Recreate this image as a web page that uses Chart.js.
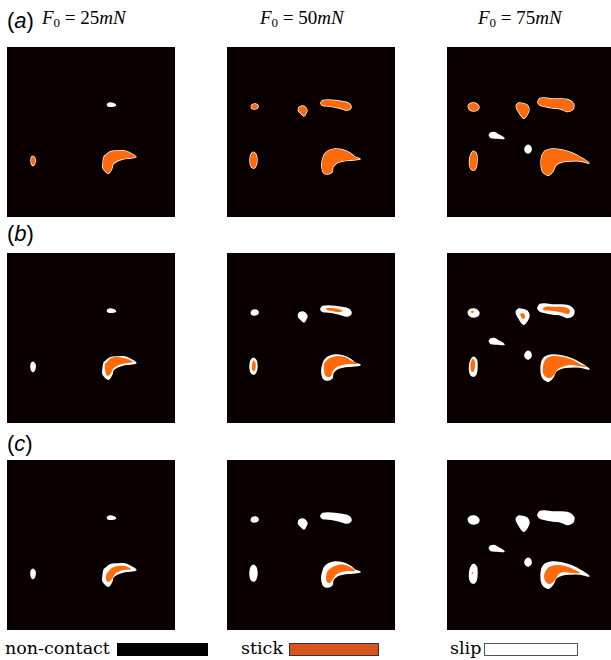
<!DOCTYPE html>
<html>
<head>
<meta charset="utf-8">
<script src="https://cdn.jsdelivr.net/npm/chart.js@4"></script>
<style>
body { margin: 0; width: 611px; height: 660px; overflow: hidden; background: #fff; position: relative; }
.panel { position: absolute; width: 168px; height: 170px; background: #0a0000; }
.tag { position: absolute; left: 7px; font-family: "Liberation Sans", Arial, sans-serif; font-size: 22px; line-height: 22px; }
.title { position: absolute; top: 8px; font-family: "Liberation Serif", serif; font-size: 19px; line-height: 19px; white-space: nowrap; }
.title sub { font-size: 13px; vertical-align: -3px; font-style: normal; }
.key { position: absolute; top: 639px; font-family: "DejaVu Serif", "Liberation Serif", serif; font-size: 17.5px; line-height: 18px; white-space: nowrap; }
.box { position: absolute; top: 643px; height: 13px; box-sizing: border-box; }
</style>
</head>
<body>

<div class="tag" style="top:10px">(<i>a</i>)</div>
<div class="tag" style="top:223px">(<i>b</i>)</div>
<div class="tag" style="top:433px">(<i>c</i>)</div>

<div class="title" style="left:42px"><i>F</i><sub>0</sub> = 25<i>mN</i></div>
<div class="title" style="left:260px"><i>F</i><sub>0</sub> = 50<i>mN</i></div>
<div class="title" style="left:478px"><i>F</i><sub>0</sub> = 75<i>mN</i></div>

<div id="panels"></div>

<div class="key" style="left:5px">non-contact</div>
<div class="box" style="left:117px;width:91px;background:#000"></div>
<div class="key" style="left:241px">stick</div>
<div class="box" style="left:289px;width:90px;background:#d9541e;border:1px solid #333"></div>
<div class="key" style="left:450px">slip</div>
<div class="box" style="left:484px;width:94px;background:#fff;border:1px solid #555"></div>

<script>
// contact outlines (panel pixels, y down), one set per load
const kidney25 = [[99,108],[103,105],[110,104],[118,104],[125,107],[129,110],[123,111],[116,112],[110,114],[106,117],[105,121],[102,126],[99,125],[96,121],[96,116],[97,110]];
const dash25 = [[100,57.5],[103,56],[107,57],[108.5,58.5],[104,59.3],[101,58.8]];
const oval25 = [[26,109],[27.8,111],[28.2,114],[27.3,117.5],[25.5,118.3],[24.2,116],[24,112],[24.8,110]];

const kidney50 = [[97,108],[101,104],[108,102],[116,103],[123,106],[128,110],[133,112],[125,113],[116,114],[110,116],[106,120],[105,125],[101,127],[97,126],[95,121],[95,115]];
const small50 = [[24,59.5],[25.5,57.5],[28.5,57],[31,58.5],[30.5,61],[27.5,62],[25,61.5]];
const tear50 = [[72,60],[75,59],[78,60],[80,63],[79,66],[77,69],[74,66.5],[71.5,63.5]];
const long50 = [[94,55],[96,53.5],[101,53],[108,53.5],[115,54.5],[121,56],[124,59],[123,62],[119,63],[114,61.5],[108,60],[101,59],[96,58.5],[94,57]];
const oval50 = [[26.5,105],[29,107.5],[30,112],[29.5,117],[27.5,121],[24.5,120],[23,115],[23.5,109],[25,106]];

const kidney75 = [[95,108],[98,104],[105,102],[115,103],[125,106],[133,110],[142,116],[133,114],[123,114],[115,115],[109,118],[106,124],[102,128],[98,127],[95,123],[94,115]];
const small75 = [[21,59],[23.5,56.5],[27,56],[30.5,57.5],[32,60],[30.5,63],[26.5,64],[22.5,62.5]];
const tear75 = [[69,58.5],[72,56],[76,56.5],[80,58],[82,62],[81,66],[78,70.5],[76,71],[73,67],[70,62]];
const long75 = [[91,54],[93,51.5],[98,51],[105,52],[113,52],[120,52.5],[125,55],[127,59],[125,63],[120,64.5],[114,62],[106,61],[98,59.5],[93,58],[91,56]];
const wedge75 = [[42,88],[44,86],[47,85.5],[51,87.5],[57,91.5],[50,91],[44,90.5]];
const dot75 = [[78,101],[80,98.5],[82.5,98.5],[84,101],[83.8,104],[81.5,106],[79,105],[78,103]];
const oval75 = [[27,104],[29.5,107],[30,113],[29.5,119],[27.5,123],[24,122],[22.5,117],[23,110],[25,105.5]];

// stick zones, row (b)
const kidneyB25 = [[100,109],[104,105],[110,104],[117,105],[123,107],[126,109],[121,110],[115,111],[110,113],[106,116],[104,120],[101,123],[99,121],[98,116],[98,111]];
const kidneyB50 = [[99,108],[103,105],[110,103],[118,104],[125,108],[130,111],[123,111],[116,112],[110,114],[106,118],[104,123],[101,124],[98,122],[97,116],[97,111]];
const longB50 = [[99,55],[105,55],[111,56],[116,58],[111,59],[105,58],[100,57]];
const ovalB50 = [[27,107],[28.5,110],[28.7,114],[27.5,118],[25.5,117.5],[25,113],[25.5,109]];
const kidneyB75 = [[97,109],[100,105],[106,103],[116,104],[126,107],[133,111],[140,114],[131,113],[123,112],[115,114],[110,117],[107,122],[103,125],[99,124],[96,120],[96,113]];
const smallB75 = [[24,58.5],[25.5,57.8],[27,58.5],[26,59.8],[24.5,59.7]];
const tearB75 = [[73,61],[75.5,60],[77.5,61.5],[78,64],[76.5,66],[74.5,64.5]];
const longB75 = [[96,55],[100,53.5],[108,53.8],[116,54],[121,55.5],[123,58.5],[121,61],[115,59.5],[107,58],[100,57.5],[96.5,57]];
const ovalB75 = [[26,105.5],[27.8,108],[28,113],[27,118],[25,119],[23.5,115],[23.8,109]];

// stick zones, row (c)
const kidneyC25 = [[100,113],[105,108],[111,106],[118,106],[124,109],[117,110],[111,112],[108,114],[105,119],[101,122],[99,119],[99,116]];
const kidneyC50 = [[100,112],[104,108],[111,105],[118,105],[125,108],[128,111],[121,111],[115,112],[110,114],[106,119],[103,123],[100,122],[99,117]];
const kidneyC75 = [[98,112],[102,107],[110,105],[118,106],[126,109],[133,113],[125,113],[116,112],[111,115],[108,120],[103,124],[99,122],[97,117]];
const ovalC75 = [[25,112],[26,112.5],[25.8,114],[24.7,113.6]];

const contacts = [
    [kidney25, dash25, oval25],
    [kidney50, small50, tear50, long50, oval50],
    [kidney75, small75, tear75, long75, wedge75, dot75, oval75]
];
const sticks = [
    [[kidney25, oval25], [kidney50, small50, tear50, long50, oval50], [kidney75, small75, tear75, long75, oval75]],
    [[kidneyB25], [kidneyB50, longB50, ovalB50], [kidneyB75, smallB75, tearB75, longB75, ovalB75]],
    [[kidneyC25], [kidneyC50], [kidneyC75, ovalC75]]
];

const panelLeft = [7, 227, 447];
const panelTop = [47, 253, 460];
const STICK = '#ff6a0a';
const SLIP = '#ffffff';

function shape(pts, color, bw) {
    const data = pts.map(p => ({x: p[0], y: p[1]}));
    data.push(data[0]);
    return {
        data: data,
        showLine: true,
        fill: 'shape',
        backgroundColor: color,
        borderColor: color,
        borderWidth: bw,
        pointRadius: 0,
        tension: 0.35
    };
}

function drawPanel(row, col) {
    const div = document.createElement('div');
    div.className = 'panel';
    div.style.left = panelLeft[col] + 'px';
    div.style.top = panelTop[row] + 'px';
    const canvas = document.createElement('canvas');
    canvas.width = 168;
    canvas.height = 170;
    div.appendChild(canvas);
    document.getElementById('panels').appendChild(div);

    const datasets = [];
    // stick first so it is drawn on top
    sticks[row][col].forEach(s => datasets.push(shape(s, STICK, 0)));
    contacts[col].forEach(s => datasets.push(shape(s, SLIP, 1.4)));

    new Chart(canvas, {
        type: 'scatter',
        data: { datasets: datasets },
        options: {
            responsive: false,
            animation: false,
            events: [],
            layout: { padding: 0 },
            plugins: { legend: { display: false }, tooltip: { enabled: false } },
            scales: {
                x: { type: 'linear', display: false, min: 0, max: 168 },
                y: { type: 'linear', display: false, min: 0, max: 170, reverse: true }
            }
        }
    });
}

for (let r = 0; r < 3; r++) {
    for (let c = 0; c < 3; c++) {
        drawPanel(r, c);
    }
}
</script>
</body>
</html>
